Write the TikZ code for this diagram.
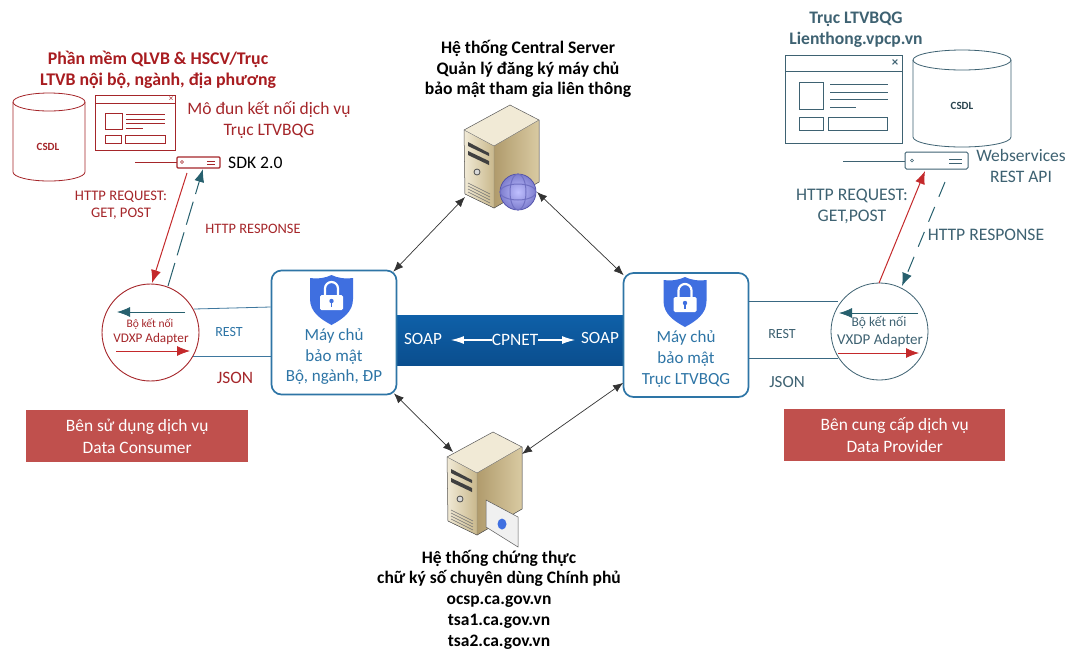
\documentclass[tikz,border=0pt]{standalone}
\usepackage{fontspec}
\setmainfont{Carlito}
\usetikzlibrary{arrows.meta,shapes.geometric,calc}
\definecolor{cred}{HTML}{A5262A}
\definecolor{cdred}{HTML}{A81C20}
\definecolor{lred}{HTML}{C4292B}
\definecolor{cteal}{HTML}{3E6272}
\definecolor{cblue}{HTML}{2E75A6}
\definecolor{boxred}{HTML}{C0504D}
\definecolor{shield}{HTML}{3F6FE0}
\definecolor{dteal}{HTML}{27606E}
\definecolor{bandt}{HTML}{0F60A8}
\definecolor{bandm}{HTML}{0C66B2}
\definecolor{bandb}{HTML}{0A4E8E}
\definecolor{twrA}{HTML}{F1EAD6}
\definecolor{twrB}{HTML}{C9B88C}
\definecolor{twrC}{HTML}{B09B6C}
\definecolor{twrD}{HTML}{D9CAA2}
\tikzset{
  x=1pt,y=-1pt,
  lbl/.style={inner sep=0pt,align=center},
  biarrow/.style={black!80,line width=.7pt,{Latex[length=10pt,width=8pt]}-{Latex[length=10pt,width=8pt]}},
  redarrow/.style={lred,line width=1pt,-{Latex[length=13pt,width=10pt]}},
  tealarrow/.style={dteal,line width=1pt,-{Latex[length=13pt,width=10pt]}},
  secbox/.style={draw=cblue,line width=1.7pt,rounded corners=10pt,fill=white},
  sidebox/.style={fill=boxred,text=white,inner sep=0pt,align=center,font=\fontsize{17.4}{22}\selectfont},
  bandarrow/.style={white,line width=1.1pt,-{Latex[length=13pt,width=8pt]}},
}
% database: centre x, top y, half-width, bottom y, colour, y radius
\newcommand{\dbcyl}[6]{%
  \draw[#5,line width=.8pt,fill=white] (#1-#3,#2) -- (#1-#3,#4) arc[start angle=180,end angle=360,x radius=#3,y radius=-#6] -- (#1+#3,#2)
    arc[start angle=0,end angle=180,x radius=#3,y radius=-#6];
  \draw[#5,line width=.8pt] (#1-#3,#2) arc[start angle=180,end angle=360,x radius=#3,y radius=-#6];
}
% server tower, origin at its left corner
\newcommand{\tower}[2]{%
\begin{scope}[shift={(#1,#2)}]
  \fill[twrA] (0,0) -- (46,-25) -- (75,-10) -- (30,16) -- cycle;
  \fill[left color=twrA,right color=twrB] (0,0) -- (30,16) -- (30,78) -- (1,64) -- cycle;
  \fill[left color=twrC,right color=twrD] (30,16) -- (75,-10) -- (75,52) -- (30,78) -- cycle;
  \draw[black!65,line width=.5pt] (0,0) -- (46,-25) -- (75,-10) -- (75,52) -- (30,78) -- (1,64) -- cycle;
  \draw[black!45,line width=.4pt] (0,0) -- (30,16) -- (75,-10) (30,16) -- (30,78);
  \fill[black!75] (4,12) -- (25,23) -- (25,26) -- (4,16) -- cycle;
  \fill[black!75] (4,21) -- (25,31) -- (25,35) -- (4,25) -- cycle;
  \draw[black!70,line width=.8pt,fill=white!70!gray] (13,42) circle[radius=3];
  \foreach \k in {0,3,6,9}{\draw[black!55,line width=.6pt] (4,53+\k) -- (26,64+\k);}
\end{scope}}
% shield with padlock, centre x, top y
\newcommand{\lockshield}[2]{%
\begin{scope}[shift={(#1,#2)}]
  \fill[shield] (-21.5,3) .. controls (-13,4) and (-6,3) .. (0,0) .. controls (6,3) and (13,4) .. (21.5,3) -- (21.5,24) .. controls (21.5,37) and (11,44) .. (0,50) .. controls (-11,44) and (-21.5,37) .. (-21.5,24) -- cycle;
  \draw[white,line width=2.2pt] (-6.5,21) -- (-6.5,13.5) arc[start angle=180,end angle=360,radius=6.5] -- (6.5,21);
  \fill[white,rounded corners=1.5pt] (-11.5,20) rectangle (11.5,35);
  \fill[shield] (0,26) circle[radius=2.2];
  \draw[shield,line width=1.1pt] (0,26) -- (0,31.5);
\end{scope}}
\begin{document}
\begin{tikzpicture}
\useasboundingbox (0,0) rectangle (1073,649);
\fill[white] (0,0) rectangle (1073,649);

% ---- band
\node[inner sep=0pt,minimum width=228pt,minimum height=50pt,top color=bandt,middle color=bandm,bottom color=bandb,anchor=north west] (band) at (396,315) {};

% ---- left side
\node[lbl,text=cdred,font=\fontsize{17.8}{20.5}\selectfont\bfseries] (tl) at (158,70) {Phần mềm QLVB \& HSCV/Trục\\LTVB nội bộ, ngành, địa phương};
\dbcyl{49}{102}{36}{172}{cred}{9}
\node[lbl,text=cred,font=\fontsize{11}{11}\selectfont\bfseries] (csdl1) at (48,147) {CSDL};
\draw[cred,line width=.8pt] (95,95) rectangle (175,150);
\draw[cred,line width=.8pt] (95,103) -- (175,103);
\node[lbl,text=cred,font=\fontsize{9}{9}\selectfont] (x1) at (171,99) {×};
\draw[cred,line width=.8pt] (105,113) rectangle (122,129);
\draw[cred,line width=.7pt] (105,135) rectangle (121,143);
\draw[cred,line width=.7pt] (125,135) rectangle (165,143);
\foreach \yy/\xe in {114/165,119/165,123/165,128/143}{\draw[cred,line width=.7pt] (126,\yy) -- (\xe,\yy);}
\node[lbl,text=cred,font=\fontsize{17.5}{21}\selectfont] (mod1) at (269,120) {Mô đun kết nối dịch vụ\\Trục LTVBQG};
\draw[cred,line width=.8pt] (135,162) -- (177,162);
\draw[cred,line width=1.1pt,fill=white,rounded corners=1pt] (177,157) rectangle (220,168);
\node[inner sep=0pt,minimum size=3pt,circle,draw=cred,fill=white] (sdkd) at (182,162) {};
\draw[cred,line width=.7pt] (207,161) -- (215,161) (207,164) -- (215,164);
\node[lbl,black,font=\fontsize{17.6}{18}\selectfont,anchor=west] (sdk) at (228,163) {SDK 2.0};
\node[lbl,text=cred,font=\fontsize{14.6}{17.5}\selectfont] (req1) at (121,205) {HTTP REQUEST:\\GET, POST};
\node[lbl,text=cred,font=\fontsize{14.4}{14}\selectfont] (res1) at (253,229) {HTTP RESPONSE};

\node[circle,draw=cred,line width=.9pt,minimum size=97pt,inner sep=0pt,fill=white] (ad1) at (150.5,332.5) {};
\coordinate (r1a) at (187,173);
\coordinate (r1b) at (152,283);
\coordinate (t1a) at (168,286);
\coordinate (t1b) at (203,169);
\draw[redarrow] (r1a) -- (r1b);
\draw[tealarrow,dash pattern=on 24pt off 8pt] (t1a) -- (t1b);
\draw[tealarrow,line width=.8pt] (185,312) -- (117,312);
\draw[redarrow,line width=.8pt] (116,351) -- (190,351);
\node[lbl,text=cred,font=\fontsize{11.5}{11.5}\selectfont] (bk1) at (150,324) {Bộ kết nối};
\node[lbl,text=cred,font=\fontsize{13.2}{13.2}\selectfont] (vd1) at (151,339) {VDXP Adapter};

\node[secbox,minimum width=125pt,minimum height=124pt] (sec1) at (334,332.5) {};
\draw[cblue!80!gray,line width=.8pt] (194,309) -- (sec1.west |- 0,307);
\draw[cblue!80!gray,line width=.8pt] (193,356) -- (sec1.west |- 0,356);
\node[lbl,text=cblue,font=\fontsize{14}{14}\selectfont] (rest1) at (229,332) {REST};
\node[lbl,text=cred,font=\fontsize{17.4}{17}\selectfont] (json1) at (235,378) {JSON};
\lockshield{331.5}{275}
\node[lbl,text=cblue,font=\fontsize{17}{20.5}\selectfont] (lab1) at (334,357) {Máy chủ\\bảo mật\\Bộ, ngành, ĐP};

\node[sidebox,minimum width=222pt,minimum height=52pt,anchor=north west] (cons) at (26,410) {Bên sử dụng dịch vụ\\Data Consumer};

% ---- central band text
\node[lbl,text=white,font=\fontsize{17.2}{17}\selectfont,outer sep=9pt] (s1) at (423,339) {SOAP};
\node[lbl,text=white,font=\fontsize{17.4}{17}\selectfont] (cp) at (515,340) {CPNET};
\node[lbl,text=white,font=\fontsize{17.2}{17}\selectfont,outer sep=6pt] (s2) at (600,338) {SOAP};
\draw[bandarrow] (cp.west) -- (s1.east |- cp.west);
\draw[bandarrow] (cp.east) -- (s2.west |- cp.east);

% ---- right security server
\node[secbox,minimum width=125pt,minimum height=124pt] (sec2) at (686,335) {};
\lockshield{685}{277}
\node[lbl,text=cblue,font=\fontsize{17}{21}\selectfont] (lab2) at (686,359) {Máy chủ\\bảo mật\\Trục LTVBQG};

\node[circle,draw=cteal,line width=.8pt,minimum size=97pt,inner sep=0pt,fill=white] (ad2) at (879.5,331.5) {};
\draw[cteal!70!cblue,line width=.8pt] (sec2.east |- 0,301) -- (838,301);
\draw[cteal!70!cblue,line width=.8pt] (sec2.east |- 0,358) -- (838,358);
\node[lbl,text=cteal,font=\fontsize{14}{14}\selectfont] (rest2) at (782,334) {REST};
\node[lbl,text=cteal,font=\fontsize{17}{17}\selectfont] (json2) at (787,382) {JSON};
\draw[tealarrow,line width=.8pt] (918,313) -- (839,313);
\draw[redarrow,line width=.8pt] (838,353) -- (919,353);
\node[lbl,text=cteal,font=\fontsize{13.5}{13.5}\selectfont] (bk2) at (879,323) {Bộ kết nối};
\node[lbl,text=cteal,font=\fontsize{15}{15}\selectfont] (vd2) at (880,340) {VXDP Adapter};
\node[sidebox,minimum width=221pt,minimum height=52pt,anchor=north west] (prov) at (784,409) {Bên cung cấp dịch vụ\\Data Provider};

% ---- right top
\node[lbl,text=cteal,font=\fontsize{17.6}{21}\selectfont\bfseries] (tr) at (856,30) {Trục LTVBQG\\Lienthong.vpcp.vn};
\draw[cteal,line width=.8pt] (785,55) rectangle (902,143);
\draw[cteal,line width=.8pt] (785,71) -- (902,71);
\node[lbl,text=cteal,font=\fontsize{13}{13}\selectfont\bfseries] (x2) at (895,63) {×};
\draw[cteal,line width=.8pt] (799,82) rectangle (823,109);
\draw[cteal,line width=.8pt] (799,117) rectangle (823,130);
\draw[cteal,line width=.8pt] (828,117) rectangle (887,130);
\foreach \yy/\xe in {84/888,92/888,99/888,107/856}{\draw[cteal,line width=.7pt] (830,\yy) -- (\xe,\yy);}
\dbcyl{962}{60}{49}{137}{cteal}{10}
\node[lbl,text=cteal!70!black,font=\fontsize{11}{11}\selectfont\bfseries] (csdl2) at (962,106) {CSDL};
\draw[cteal,line width=.8pt] (843,161) -- (905,161);
\draw[cteal,line width=1pt,fill=white,rounded corners=1.5pt] (905,152) rectangle (968,169);
\node[inner sep=0pt,minimum size=3pt,circle,draw=cteal,fill=white] (wsd) at (912,160.5) {};
\draw[cteal,line width=.7pt] (949,159) -- (962,159) (949,163) -- (962,163);
\node[lbl,text=cteal,font=\fontsize{17.5}{21}\selectfont] (ws) at (1021,166) {Webservices\\REST API};
\node[lbl,text=cteal,font=\fontsize{17.7}{21}\selectfont] (req2) at (852,206) {HTTP REQUEST:\\GET,POST};
\node[lbl,text=cteal,font=\fontsize{17.6}{17}\selectfont] (res2) at (986,235) {HTTP RESPONSE};
\coordinate (r2a) at (879,283);
\coordinate (r2b) at (925,171);
\coordinate (t2a) at (945,182);
\coordinate (t2b) at (902,286);
\draw[redarrow] (r2a) -- (r2b);
\draw[tealarrow,dash pattern=on 16pt off 11pt] (t2a) -- (t2b);

% ---- centre servers
\node[lbl,text=black,font=\fontsize{17.6}{20.5}\selectfont\bfseries] (top) at (528,69) {Hệ thống Central Server\\Quản lý đăng ký máy chủ\\bảo mật tham gia liên thông};
\tower{464}{130}
\shade[inner color=white!75!blue,outer color=blue!45!gray!70!white,draw=blue!50!black!70,line width=.7pt] (518,192) circle[radius=18];
\draw[blue!40!gray!80!white,line width=1pt] (518,192) ellipse[x radius=18,y radius=8];
\draw[blue!40!gray!80!white,line width=1pt] (518,192) ellipse[x radius=8,y radius=18];
\coordinate (cs1) at (465,197);
\coordinate (cs2) at (537,192);

\tower{447}{457}
\fill[white!88!gray,draw=black!65,line width=.5pt] (486,500) -- (518,517) -- (518,547) -- (486,527) -- cycle;
\fill[shield] (502,524) ellipse[x radius=4.5,y radius=5.5];
\node[lbl,text=black,font=\fontsize{17.5}{20.7}\selectfont\bfseries] (bot) at (499,599.5) {Hệ thống chứng thực\\chữ ký số chuyên dùng Chính phủ\\ocsp.ca.gov.vn\\tsa1.ca.gov.vn\\tsa2.ca.gov.vn};
\coordinate (ca1) at (453,452);
\coordinate (ca2) at (522,454);

\draw[biarrow] ($(sec1.north east)+(-4,2)$) -- (cs1);
\draw[biarrow] (cs2) -- ($(sec2.north west)+(1,3)$);
\draw[biarrow] ($(sec1.south east)+(-3.5,-2)$) -- (ca1);
\draw[biarrow] (ca2) -- ($(sec2.south west)+(.5,-15)$);
\end{tikzpicture}
\end{document}
